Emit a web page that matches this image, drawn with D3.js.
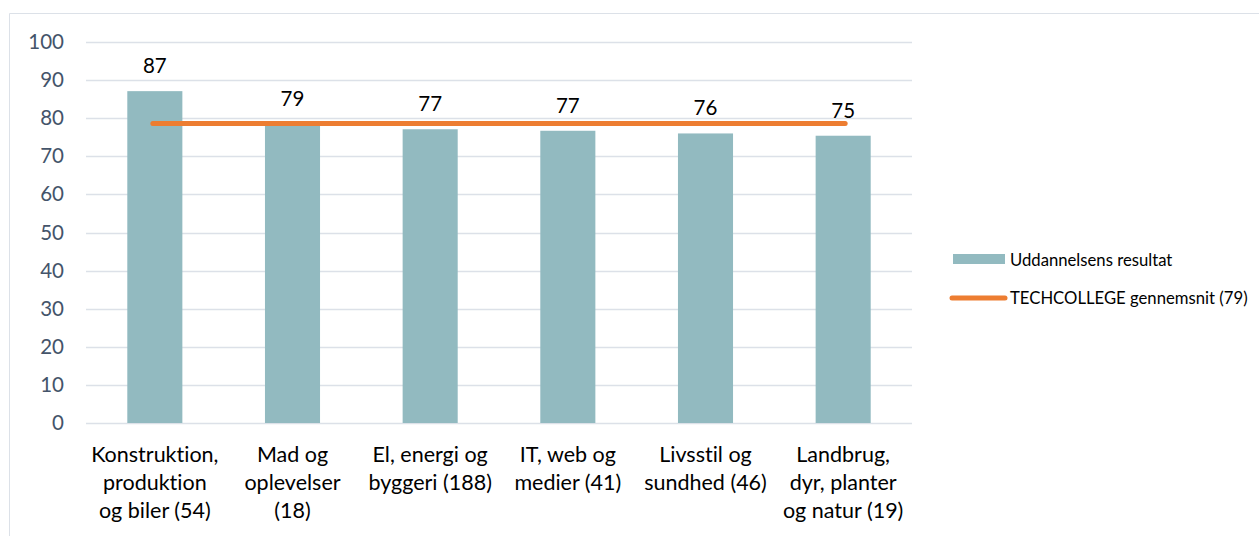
<!DOCTYPE html>
<html>
<head>
<meta charset="utf-8">
<script src="https://cdn.jsdelivr.net/npm/d3@7"></script>
<style>
  body { margin: 0; background: #fff; }
  svg { display: block; font-family: Lato, "Open Sans", sans-serif; font-variant-ligatures: none; font-feature-settings: "liga" 0, "clig" 0; }
</style>
</head>
<body>
<svg id="chart" width="1259" height="536"></svg>
<script>
const categories = [
  ["Konstruktion,", "produktion", "og biler (54)"],
  ["Mad og", "oplevelser", "(18)"],
  ["El, energi og", "byggeri (188)"],
  ["IT, web og", "medier (41)"],
  ["Livsstil og", "sundhed (46)"],
  ["Landbrug,", "dyr, planter", "og natur (19)"]
];
const results = [87.1, 78.6, 77.1, 76.7, 76.0, 75.4];
const resultLabels = ["87", "79", "77", "77", "76", "75"];
const average = 78.6;
const yTicks = [0, 10, 20, 30, 40, 50, 60, 70, 80, 90, 100];
const seriesNames = ["Uddannelsens resultat", "TECHCOLLEGE gennemsnit (79)"];

const barColor = "#92BAC0";
const lineColor = "#ED7D31";

const svg = d3.select("#chart");
const W = 1259, H = 536;
const m = { left: 86, right: 912, top: 42, bottom: 423 };

// outer frame
svg.append("path")
  .attr("d", `M9.5,${H} V13.5 H${W}`)
  .attr("fill", "none").attr("stroke", "#DCE1E8").attr("stroke-width", 1);

const x = d3.scaleBand().domain(d3.range(categories.length))
  .range([m.left, m.right]).paddingInner(0.6).paddingOuter(0.3);
const y = d3.scaleLinear().domain([0, 100]).range([m.bottom, m.top]);

// gridlines
svg.append("g").selectAll("line").data(yTicks).join("line")
  .attr("x1", m.left).attr("x2", m.right)
  .attr("y1", d => Math.round(y(d)) + 0.5).attr("y2", d => Math.round(y(d)) + 0.5)
  .attr("stroke", "#DCE1E8").attr("stroke-width", 1.5);

// y axis labels
const yAxis = d3.axisLeft(y).tickValues(yTicks).tickSize(0).tickPadding(0);
const ya = svg.append("g").attr("transform", `translate(64,0)`).call(yAxis);
ya.select(".domain").remove();
ya.selectAll("text").attr("font-size", 20.5).attr("fill", "#44546A")
  .attr("font-family", "Lato, sans-serif");

// bars
svg.append("g").selectAll("rect").data(results).join("rect")
  .attr("x", (d, i) => x(i)).attr("width", x.bandwidth())
  .attr("y", d => y(d)).attr("height", d => y(0) - y(d))
  .attr("fill", barColor);

// average line
const cx = i => x(i) + x.bandwidth() / 2;
svg.append("line")
  .attr("x1", cx(0) - 2).attr("x2", cx(categories.length - 1) + 2)
  .attr("y1", y(average)).attr("y2", y(average))
  .attr("stroke", lineColor).attr("stroke-width", 5).attr("stroke-linecap", "round");

// data labels
svg.append("g").selectAll("text").data(results).join("text")
  .attr("x", (d, i) => cx(i)).attr("y", d => y(d) - 18)
  .attr("text-anchor", "middle").attr("font-size", 20.5).attr("fill", "#000")
  .text((d, i) => resultLabels[i]);

// category labels
const cg = svg.append("g");
categories.forEach((lines, i) => {
  const t = cg.append("text").attr("text-anchor", "middle")
    .attr("font-size", 21.5).attr("fill", "#000");
  lines.forEach((ln, j) => {
    t.append("tspan").attr("x", cx(i)).attr("y", 462 + j * 28).text(ln);
  });
});

// legend
const lg = svg.append("g");
lg.append("rect").attr("x", 953).attr("y", 254).attr("width", 52).attr("height", 10).attr("fill", barColor);
lg.append("text").attr("x", 1010).attr("y", 265.5).attr("font-size", 16.7).attr("fill", "#000").text(seriesNames[0]);
lg.append("line").attr("x1", 952).attr("x2", 1005).attr("y1", 298).attr("y2", 298)
  .attr("stroke", lineColor).attr("stroke-width", 5).attr("stroke-linecap", "round");
lg.append("text").attr("x", 1010).attr("y", 304).attr("font-size", 16.7).attr("fill", "#000").text(seriesNames[1]);
</script>
</body>
</html>
